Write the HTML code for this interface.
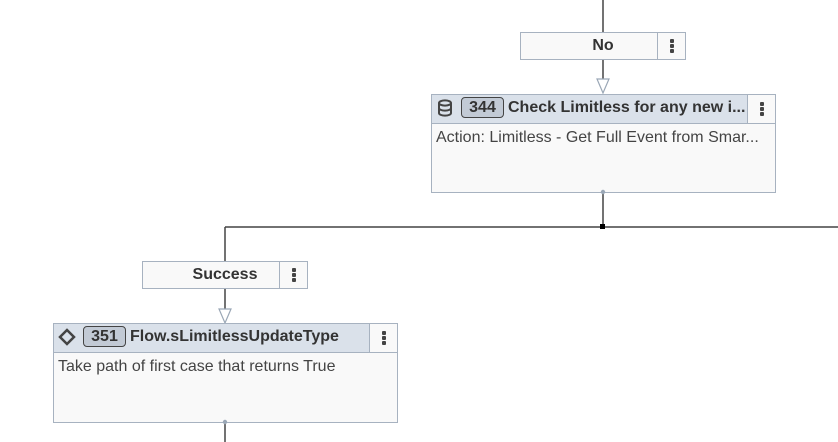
<!DOCTYPE html>
<html><head><meta charset="utf-8"><style>
html,body{margin:0;padding:0;background:#fff;}
body{width:838px;height:442px;position:relative;overflow:hidden;font-family:"Liberation Sans",sans-serif;}
.abs{position:absolute;box-sizing:border-box;}
.lbl{border:1px solid #a7b2c0;background:#f9f9f9;font-weight:bold;font-size:16px;color:#333;}
.lbl .t{position:absolute;left:0;right:0;top:0;bottom:0;text-align:center;line-height:25px;}
.lbl .m{position:absolute;right:0;top:0;bottom:0;width:27px;border-left:1px solid #a7b2c0;}
.dots{position:absolute;left:50%;top:50%;width:4px;height:14px;margin:-7px 0 0 -2px;}
.dots i{display:block;width:4px;height:4px;background:#444;margin-bottom:1px;border-radius:1px;}
.node{border:1px solid #a7b2c0;background:#f9f9f9;}
.hdr{position:absolute;left:0;right:0;top:0;height:28px;background:#dae1ea;border-bottom:1px solid #a7b2c0;}
.hdr .m{position:absolute;right:0;top:0;bottom:0;width:27px;border-left:1px solid #a7b2c0;background:#f9f9f9;}
.badge{position:absolute;top:2px;height:21px;width:43px;border:1px solid #444;border-radius:4px;background:#c2cad5;font-size:16px;font-weight:bold;color:#333;text-align:center;line-height:19px;box-sizing:border-box;}
.title{position:absolute;top:0;line-height:26px;font-size:16px;font-weight:bold;color:#333;white-space:nowrap;}
.body{position:absolute;left:4px;top:34px;font-size:16px;color:#444;white-space:nowrap;}
</style></head><body>
<svg class="abs" style="left:0;top:0" width="838" height="442">
<g stroke="#444" stroke-width="1.5" fill="none">
<line x1="603" y1="0" x2="603" y2="32"/>
<line x1="603" y1="60" x2="603" y2="80"/>
<line x1="603" y1="192" x2="603" y2="227"/>
<line x1="225" y1="227" x2="838" y2="227"/>
<line x1="225" y1="227" x2="225" y2="261"/>
<line x1="225" y1="289" x2="225" y2="309"/>
<line x1="225" y1="422" x2="225" y2="442"/>
</g>
<polygon points="597,79 609,79 603,93" fill="#fff" stroke="#9aa7b6" stroke-width="1.2"/>
<polygon points="219,309 231,309 225,323" fill="#fff" stroke="#9aa7b6" stroke-width="1.2"/>
<rect x="600" y="224" width="5" height="5" fill="#000"/>
</svg>

<div class="abs lbl" style="left:520px;top:32px;width:166px;height:28px;"><div class="t">No</div><div class="m"><div class="dots"><i></i><i></i><i></i></div></div></div>

<div class="abs node" style="left:431px;top:94px;width:345px;height:99px;">
<div class="hdr">
<svg style="position:absolute;left:5px;top:4px" width="16" height="18" viewBox="0 0 16 18"><g fill="none" stroke="#444" stroke-width="2"><ellipse cx="8" cy="4" rx="6" ry="2.6"/><path d="M2 4v10c0 1.5 2.7 2.6 6 2.6s6-1.1 6-2.6V4"/><path d="M2 9c0 1.5 2.7 2.6 6 2.6s6-1.1 6-2.6"/></g></svg>
<div class="badge" style="left:29px;">344</div>
<div class="title" style="left:76px;">Check Limitless for any new i...</div>
<div class="m"><div class="dots"><i></i><i></i><i></i></div></div>
</div>
<div class="body">Action: Limitless - Get Full Event from Smar...</div>
<svg style="position:absolute;left:168px;bottom:-3px" width="6" height="6"><circle cx="3" cy="3" r="2.2" fill="#9aa7b6"/></svg>
</div>

<div class="abs lbl" style="left:142px;top:261px;width:166px;height:28px;"><div class="t">Success</div><div class="m"><div class="dots"><i></i><i></i><i></i></div></div></div>

<div class="abs node" style="left:53px;top:323px;width:345px;height:100px;">
<div class="hdr">
<svg style="position:absolute;left:4px;top:4px" width="18" height="18" viewBox="0 0 18 18"><polygon points="9,2 16,9 9,16 2,9" fill="none" stroke="#444" stroke-width="2.5"/></svg>
<div class="badge" style="left:29px;">351</div>
<div class="title" style="left:76px;">Flow.sLimitlessUpdateType</div>
<div class="m"><div class="dots"><i></i><i></i><i></i></div></div>
</div>
<div class="body">Take path of first case that returns True</div>
<svg style="position:absolute;left:168px;bottom:-3px" width="6" height="6"><circle cx="3" cy="3" r="2.2" fill="#9aa7b6"/></svg>
</div>
</body></html>
